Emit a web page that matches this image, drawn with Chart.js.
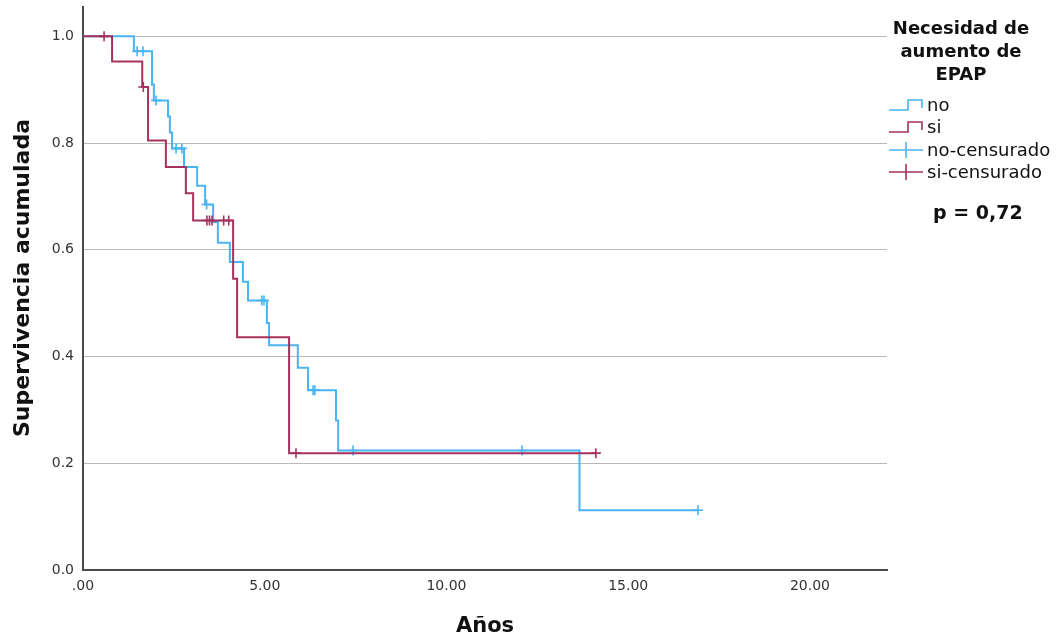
<!DOCTYPE html>
<html>
<head>
<meta charset="utf-8">
<script src="https://cdn.jsdelivr.net/npm/chart.js@4.4.1/dist/chart.umd.min.js"></script>
<style>
  html, body { margin: 0; padding: 0; background: #ffffff; }
  #wrap { position: relative; width: 1058px; height: 639px; overflow: hidden; }
  #c { position: absolute; left: 0; top: 0; }
  .txt { position: absolute; font-family: "DejaVu Sans", sans-serif; color: #111; white-space: nowrap; }
  #legTitle { left: 880px; top: 16px; width: 162px; text-align: center; font-size: 18px; font-weight: bold; line-height: 23px; }
  .item { left: 927px; font-size: 18px; line-height: 22px; }
  #pval { left: 933px; top: 200px; font-size: 19px; font-weight: bold; line-height: 24px; }
  #yTitle { left: 22px; top: 278px; font-size: 22px; font-weight: bold; line-height: 26px;
            transform: translate(-50%, -50%) rotate(-90deg); }
  #icons { position: absolute; left: 0; top: 0; }
</style>
</head>
<body>
<div id="wrap">
  <canvas id="c" width="1058" height="639"></canvas>
  <svg id="icons" width="1058" height="639"></svg>
  <div id="yTitle" class="txt"></div>
  <div id="legTitle" class="txt"></div>
  <div id="legItems"></div>
  <div id="pval" class="txt"></div>
</div>
<script>
// ---------------- DATA ----------------
// Kaplan-Meier steps, group "no" (time in years, cumulative survival)
const noTimes = [0, 1.40, 1.90, 1.95, 2.34, 2.39, 2.45, 2.78, 3.14, 3.36, 3.58, 3.71, 4.04, 4.40, 4.54, 5.06, 5.12, 5.91, 6.19, 6.96, 7.02, 13.66, 16.92];
const noSurv  = [1.0, 0.972, 0.91, 0.88, 0.85, 0.82, 0.79, 0.755, 0.72, 0.685, 0.652, 0.613, 0.577, 0.54, 0.505, 0.463, 0.421, 0.379, 0.337, 0.28, 0.224, 0.112, 0.112];
// censored observations, group "no"
const noCensTimes = [1.49, 1.65, 2.01, 2.56, 2.72, 3.40, 4.92, 4.98, 6.33, 6.38, 7.43, 12.08, 16.92];
const noCensSurv  = [0.972, 0.972, 0.88, 0.79, 0.79, 0.685, 0.505, 0.505, 0.337, 0.337, 0.224, 0.224, 0.112];

// Kaplan-Meier steps, group "si"
const siTimes = [0, 0.80, 1.63, 1.79, 2.28, 2.83, 3.03, 4.13, 4.24, 5.67, 14.11];
const siSurv  = [1.0, 0.953, 0.905, 0.805, 0.755, 0.706, 0.655, 0.546, 0.436, 0.219, 0.219];
// censored observations, group "si"
const siCensTimes = [0.58, 1.66, 3.41, 3.48, 3.55, 3.87, 4.01, 5.86, 14.11];
const siCensSurv  = [1.0, 0.905, 0.655, 0.655, 0.655, 0.655, 0.655, 0.219, 0.219];

// tick labels
const xTickValues = [0, 5, 10, 15, 20];
const xTickLabels = ['.00', '5.00', '10.00', '15.00', '20.00'];
const yTickValues = [0, 0.2, 0.4, 0.6, 0.8, 1.0];
const yTickLabels = ['0.0', '0.2', '0.4', '0.6', '0.8', '1.0'];

// text
const xTitle = 'Años';
const yTitle = 'Supervivencia acumulada';
const legendTitleLines = ['Necesidad de', 'aumento de', 'EPAP'];
const legendLabels = ['no', 'si', 'no-censurado', 'si-censurado'];
const pValueText = 'p = 0,72';

// ---------------- STYLE ----------------
const BLUE = '#48B4F2';
const RED = '#A5325E';
const FONT = '"DejaVu Sans", sans-serif';

const toXY = (xs, ys) => xs.map((x, i) => ({ x: x, y: ys[i] }));
const findLabel = (vals, labels, v) => {
  const i = vals.findIndex(t => Math.abs(t - v) < 1e-6);
  return i >= 0 ? labels[i] : '';
};

new Chart(document.getElementById('c'), {
  type: 'line',
  data: {
    datasets: [
      { label: legendLabels[1], data: toXY(siTimes, siSurv), stepped: true, borderColor: RED, borderWidth: 2,
        pointRadius: 0, pointHoverRadius: 0, fill: false, order: 1 },
      { label: legendLabels[0], data: toXY(noTimes, noSurv), stepped: true, borderColor: BLUE, borderWidth: 2,
        pointRadius: 0, pointHoverRadius: 0, fill: false, order: 3 },
      { label: legendLabels[3], data: toXY(siCensTimes, siCensSurv), showLine: false, pointStyle: 'cross',
        pointRadius: 5, pointBorderWidth: 1.6, borderColor: RED, backgroundColor: RED, order: 0 },
      { label: legendLabels[2], data: toXY(noCensTimes, noCensSurv), showLine: false, pointStyle: 'cross',
        pointRadius: 5, pointBorderWidth: 1.6, borderColor: BLUE, backgroundColor: BLUE, order: 2 }
    ]
  },
  options: {
    responsive: false,
    animation: false,
    events: [],
    layout: { padding: { left: 0, right: 171, top: 7, bottom: 0 } },
    plugins: { legend: { display: false }, tooltip: { enabled: false } },
    scales: {
      x: {
        type: 'linear', min: 0, max: 22.12,
        grid: { drawOnChartArea: false, drawTicks: false, tickLength: 0 },
        border: { display: true, color: '#4a4a4a', width: 2 },
        ticks: {
          stepSize: 5, includeBounds: false, padding: 8, color: '#333',
          font: { family: FONT, size: 14 }, maxRotation: 0,
          callback: v => findLabel(xTickValues, xTickLabels, v)
        },
        title: { display: true, text: xTitle, color: '#111', font: { family: FONT, size: 21, weight: 'bold' },
                 padding: { top: 0, bottom: 0 } },
        afterFit: s => { s.height = 69; s.paddingLeft = 0; s.paddingRight = 0; }
      },
      y: {
        type: 'linear', min: 0, max: 1.055,
        grid: { color: '#b8b8b8', lineWidth: 1, drawTicks: false, tickLength: 0 },
        border: { display: true, color: '#4a4a4a', width: 2 },
        ticks: {
          stepSize: 0.2, includeBounds: false, padding: 9, color: '#333',
          font: { family: FONT, size: 14 },
          callback: v => findLabel(yTickValues, yTickLabels, v)
        },
        title: { display: false },
        afterFit: s => { s.width = 83; s.paddingTop = 0; s.paddingBottom = 0; }
      }
    }
  }
});

// ---------------- TEXT + LEGEND (HTML text + SVG icons) ----------------
document.getElementById('yTitle').textContent = yTitle;
document.getElementById('legTitle').innerHTML = legendTitleLines.join('<br>');
document.getElementById('pval').textContent = pValueText;
const itemY = [105, 127, 150, 172];
const itemColors = [BLUE, RED, BLUE, RED];
const items = document.getElementById('legItems');
const svg = document.getElementById('icons');
let svgHtml = '';
legendLabels.forEach((lab, i) => {
  const d = document.createElement('div');
  d.className = 'txt item';
  d.style.top = (itemY[i] - 11) + 'px';
  d.textContent = lab;
  items.appendChild(d);
  const y = itemY[i], c = itemColors[i];
  if (i < 2) {
    svgHtml += `<polyline points="889,${y + 5} 908,${y + 5} 908,${y - 5} 922,${y - 5} 922,${y + 3}" fill="none" stroke="${c}" stroke-width="1.6"/>`;
  } else {
    svgHtml += `<line x1="889" y1="${y}" x2="923" y2="${y}" stroke="${c}" stroke-width="1.6"/>`;
    svgHtml += `<line x1="906" y1="${y - 8}" x2="906" y2="${y + 8}" stroke="${c}" stroke-width="1.6"/>`;
  }
});
svg.innerHTML = svgHtml;
</script>
</body>
</html>
